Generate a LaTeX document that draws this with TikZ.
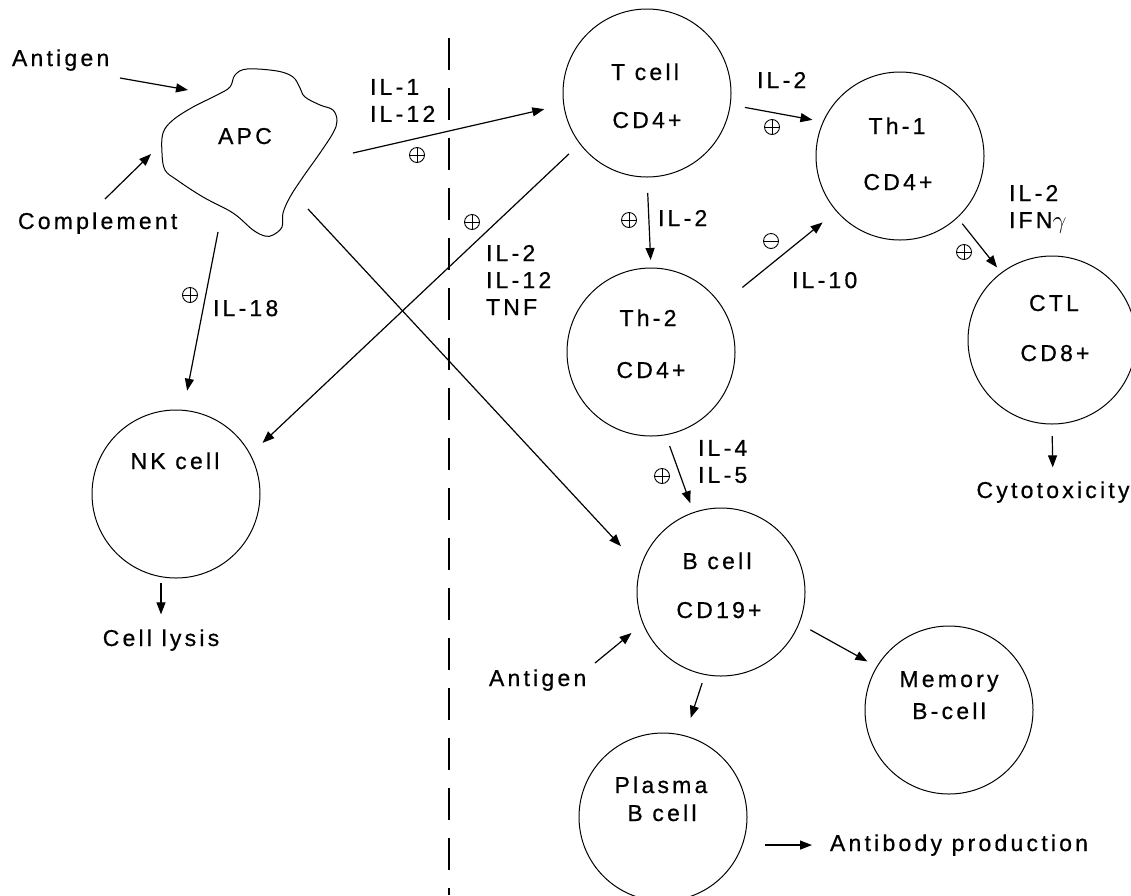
\documentclass[tikz,border=0pt]{standalone}
\usepackage{fontspec}
\setmainfont{Liberation Sans}[LetterSpace=14, FakeBold=0.6]
\usetikzlibrary{arrows.meta}
\begin{document}
\begin{tikzpicture}[x=1pt,y=-1pt,
  every node/.style={inner sep=0pt, outer sep=0pt},
  txt/.style={font=\fontsize{23}{27}\selectfont, align=left},
  cell/.style={circle, draw, line width=1pt, minimum size=168pt},
  arr/.style={line width=1.2pt, -{Triangle[length=12pt,width=9pt]}},
  pl/.style={circle, draw, line width=0.9pt, minimum size=15pt,
    path picture={\draw[line width=0.9pt] (path picture bounding box.north) -- (path picture bounding box.south)
      (path picture bounding box.west) -- (path picture bounding box.east);}},
  mi/.style={circle, draw, line width=0.9pt, minimum size=15pt,
    path picture={\draw[line width=0.9pt] (path picture bounding box.west) -- (path picture bounding box.east);}},
  dline/.style={line width=1.3pt, dash pattern=on 32pt off 18pt},
  blob/.style={line width=1pt}
]
\useasboundingbox (0,0) rectangle (1131,895);

% dashed separator
\coordinate (dtop) at (449,38);
\coordinate (dbot) at (449,895);
\draw[dline] (dtop) -- (dbot);

% APC blob
\draw[blob] plot[smooth cycle, tension=0.6] coordinates {(247,69) (277,71) (293,77) (300,88) (305,97) (320,105) (333,110) (337,121) (333,133) (320,153) (303,177) (290,197) (283,213) (282,227) (273,235) (265,236) (253,230) (233,213) (203,197) (177,180) (165,170) (162,153) (163,133) (173,120) (193,107) (217,95) (230,87) (235,75)};
\node[txt, anchor=base] (apc) at (245,144) {APC};

% cells
\node[cell] (tcell) at (647,93) {};
\node[cell] (th1) at (900,156) {};
\node[cell] (ctl) at (1052,340) {};
\node[cell] (th2) at (651,352) {};
\node[cell] (nk) at (176,494) {};
\node[cell] (bcell) at (721,592) {};
\node[cell] (mem) at (949,710) {};
\node[cell] (plasma) at (663,817) {};

% cell labels
\node[txt, anchor=base] (tcellA) at (645,80) {T cell};
\node[txt, anchor=base] (tcellB) at (647,128) {CD4+};
\node[txt, anchor=base] (th1A) at (897,134) {Th-1};
\node[txt, anchor=base] (th1B) at (898,190) {CD4+};
\node[txt, anchor=base] (th2A) at (648,326) {Th-2};
\node[txt, anchor=base] (th2B) at (651,378) {CD4+};
\node[txt, anchor=base] (ctlA) at (1054,311) {CTL};
\node[txt, anchor=base] (ctlB) at (1055,361) {CD8+};
\node[txt, anchor=base] (nkA) at (175,469) {NK cell};
\node[txt, anchor=base] (bcellA) at (717,569) {B cell};
\node[txt, anchor=base] (bcellB) at (719,618) {CD19+};
\node[txt, anchor=base] (memA) at (949,687) {Memory};
\node[txt, anchor=base] (memB) at (949,719) {B-cell};
\node[txt, anchor=base] (plasmaA) at (661,793) {Plasma};
\node[txt, anchor=base] (plasmaB) at (662,821) {B cell};

% free texts
\node[txt, anchor=base west] (ag1) at (12,66) {Antigen};
\node[txt, anchor=base west] (comp) at (18,229) {Complement};
\node[txt, anchor=base west] (ag2) at (489,686) {Antigen};
\node[txt, anchor=base] (cyto) at (1053,498) {Cytotoxicity};
\node[txt, anchor=base] (lysis) at (161,646) {Cell lysis};
\node[txt, anchor=base west] (antibody) at (830,851) {Antibody production};

% cytokine labels
\node[txt, anchor=north west] (l1) at (370,79) {IL-1\\IL-12};
\node[txt, anchor=north west] (l2) at (213,300) {IL-18};
\node[txt, anchor=north west] (l3) at (486,245) {IL-2\\IL-12\\TNF};
\node[txt, anchor=north west] (l4) at (658,210) {IL-2};
\node[txt, anchor=north west] (l5) at (757,72) {IL-2};
\node[txt, anchor=north west] (l6) at (792,272) {IL-10};
\node[txt, anchor=north west] (l7) at (1009,185) {IL-2\\IFN$\gamma$};
\node[txt, anchor=north west] (l8) at (698,440) {IL-4\\IL-5};

% signs
\node[pl] (p1) at (417,155) {};
\node[pl] (p2) at (190,295) {};
\node[pl] (p3) at (472,222) {};
\node[pl] (p4) at (629,220) {};
\node[pl] (p5) at (772,127) {};
\node[pl] (p6) at (964,252) {};
\node[pl] (p7) at (662,476) {};
\node[mi] (m1) at (771,241) {};

% connection points on the APC outline and free tails
\coordinate (apcA) at (188,90);
\coordinate (apcC) at (151,154);
\coordinate (apcT) at (353,153);
\coordinate (apcN) at (218,232);
\coordinate (apcB) at (308,209);
\coordinate (agT) at (120,78);
\coordinate (cmT) at (105,199);
\coordinate (ag2T) at (595,663);

% connectors
\draw[arr] (agT) -- (apcA);
\draw[arr] (cmT) -- (apcC);
\draw[arr, shorten >=20pt] (apcT) -- (tcell.188);
\draw[arr, shorten >=20pt] (apcN) -- (nk.85);
\draw[arr, shorten >=29pt] (apcB) -- (bcell.163);
\draw[arr, shorten <=15pt, shorten >=17pt] (tcell.217) -- (nk.28);
\draw[arr, shorten <=16pt, shorten >=8pt] (tcell.south) -- (th2.north);
\draw[arr, shorten <=15pt, shorten >=11pt] (tcell.352) -- (th1.156);
\draw[arr, shorten <=28pt, shorten >=18pt] (th2.34) -- (th1.221);
\draw[arr, shorten <=8pt, shorten >=7pt] (th1.313) -- (ctl.127);
\draw[arr, shorten <=12pt, shorten >=14pt] (ctl.south) -- (cyto.north);
\draw[arr, shorten <=5pt, shorten >=15pt] (lysis.north |- nk.south) -- (lysis.north);
\draw[arr, shorten <=12pt, shorten >=10pt] (th2.280) -- (bcell.109);
\draw[arr, shorten >=15pt] (ag2T) -- (bcell.202);
\draw[arr, shorten <=9pt, shorten >=19pt] (bcell.259) -- (plasma.75);
\draw[arr, shorten <=13pt, shorten >=11pt] (bcell.338) -- (mem.149);
\draw[arr, shorten <=18pt, shorten >=18pt] (antibody.west -| plasma.east) -- (antibody.west);
\end{tikzpicture}
\end{document}
